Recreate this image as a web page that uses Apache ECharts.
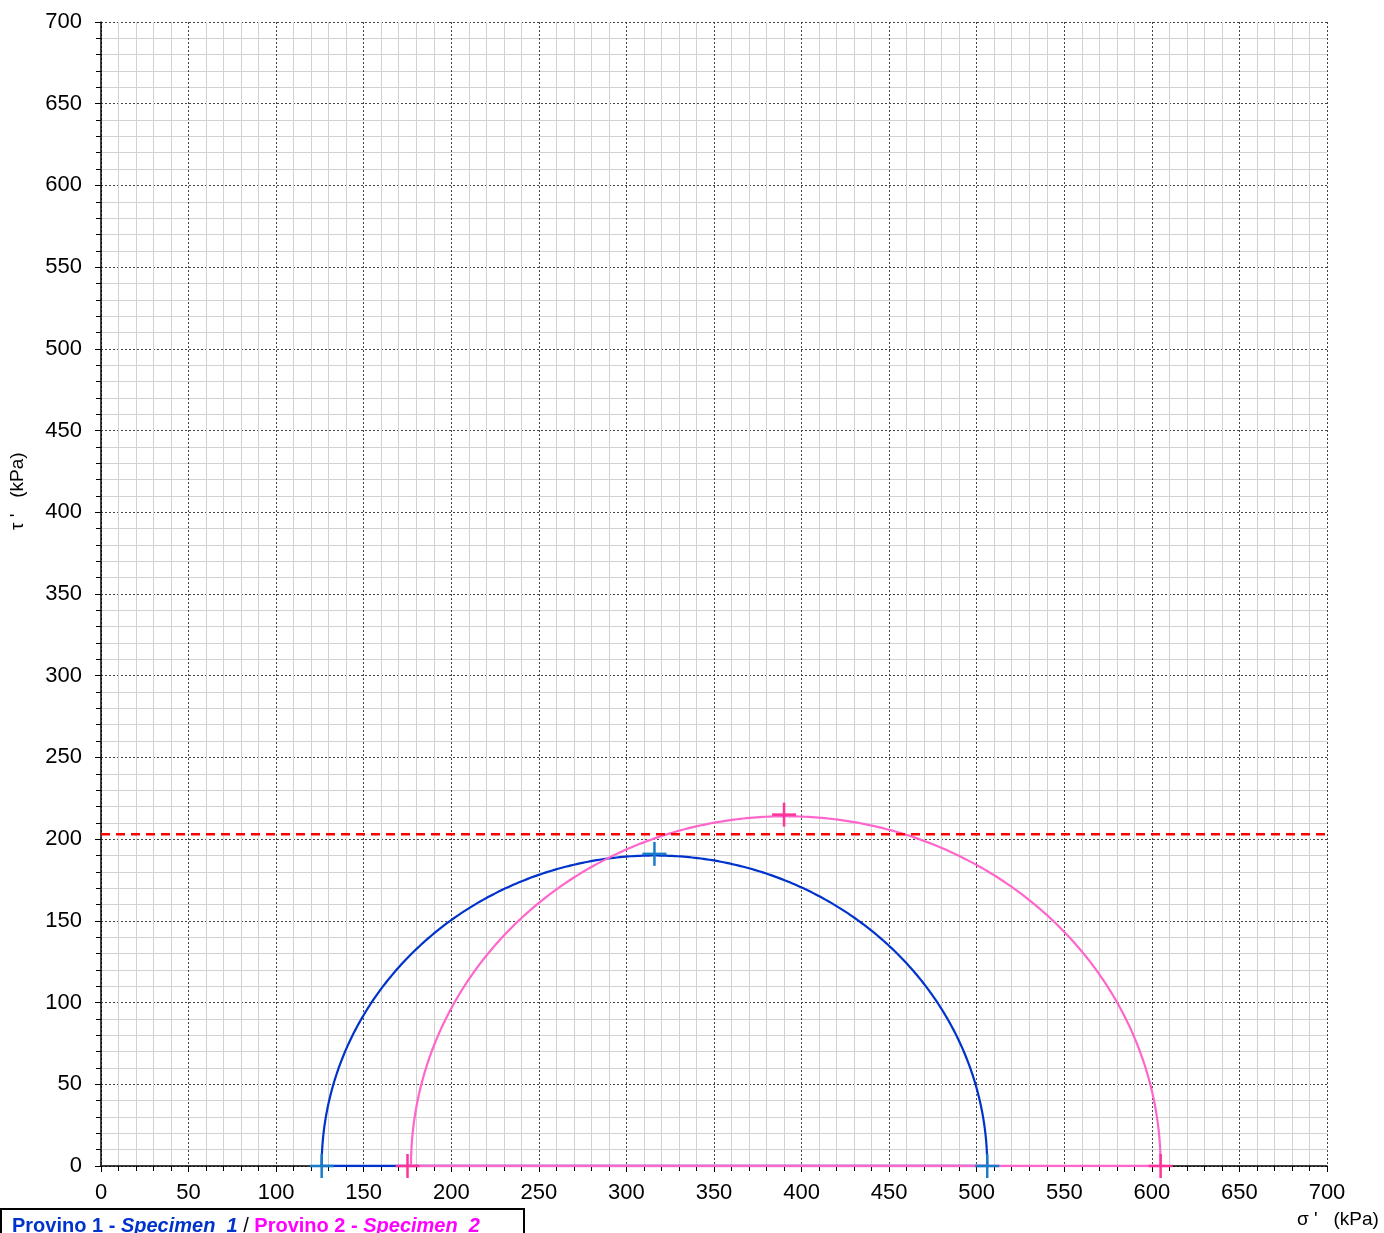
<!DOCTYPE html>
<html>
<head>
<meta charset="utf-8">
<script src="https://cdn.jsdelivr.net/npm/echarts@6/dist/echarts.min.js"></script>
<style>html,body{margin:0;padding:0;background:#fff}#c{width:1384px;height:1233px}</style>
</head>
<body>
<div id="c"></div>
<script>
// Mohr circles: [sigma3, sigma1] (kPa)
const circle1 = [126, 506];
const circle2 = [177, 605];
// centre markers [sigma, tau]
const centre1 = [316, 191];
const centre2 = [390, 215];
// end-point markers on tau = 0
const ends1 = [[126, 0], [506, 0]];
const ends2 = [[175, 0], [605, 0]];
// stress path along tau = 0
const path1 = [[125, 0], [506, 0]];
const path2 = [[175, 0], [608, 0]];
// failure envelope (horizontal)
const envelopeTau = 203;
const axisMin = 0, axisMax = 700, axisStep = 50;

const chart = echarts.init(document.getElementById('c'));
const font = 'Liberation Sans, Arial, sans-serif';

function circleSeries(name, c, color) {
  return {
    name, type: 'custom', data: [c], z: 5,
    renderItem: function (params, api) {
      const s3 = api.value(0), s1 = api.value(1);
      const ctr = (s1 + s3) / 2, r = (s1 - s3) / 2;
      const pts = [];
      for (let i = 0; i <= 360; i++) {
        const t = Math.PI * i / 360;
        pts.push(api.coord([ctr - r * Math.cos(t), r * Math.sin(t)]));
      }
      return { type: 'polyline', shape: { points: pts }, style: { stroke: color, lineWidth: 2.2, fill: null } };
    }
  };
}
function crossSeries(name, data, color, h, v) {
  return {
    name, type: 'custom', data: data, z: 6,
    renderItem: function (params, api) {
      const p = api.coord([api.value(0), api.value(1)]);
      return { type: 'group', children: [
        { type: 'line', shape: { x1: p[0] - h, y1: p[1], x2: p[0] + h, y2: p[1] }, style: { stroke: color, lineWidth: 2.5 } },
        { type: 'line', shape: { x1: p[0], y1: p[1] - v, x2: p[0], y2: p[1] + v }, style: { stroke: color, lineWidth: 2.5 } }
      ]};
    }
  };
}

chart.setOption({
  animation: false,
  backgroundColor: '#fff',
  grid: { left: 101, right: 57, top: 22, bottom: 67 },
  xAxis: {
    type: 'value', min: axisMin, max: axisMax, interval: axisStep,
    axisLine: { lineStyle: { color: '#000', width: 1.5 } },
    axisTick: { show: true, length: 6, lineStyle: { color: '#000' } },
    minorTick: { show: true, splitNumber: 5, length: 5, lineStyle: { color: '#000' } },
    axisLabel: { color: '#000', fontSize: 22, fontFamily: font, margin: 16 },
    splitLine: { show: true, lineStyle: { color: '#444', type: [2, 2], width: 1 } },
    minorSplitLine: { show: true, lineStyle: { color: '#d2d2d2', width: 1 } }
  },
  yAxis: {
    type: 'value', min: axisMin, max: axisMax, interval: axisStep,
    axisLine: { show: true, lineStyle: { color: '#000', width: 1.5 } },
    axisTick: { show: true, length: 6, lineStyle: { color: '#000' } },
    minorTick: { show: true, splitNumber: 5, length: 5, lineStyle: { color: '#000' } },
    axisLabel: { color: '#000', fontSize: 22, fontFamily: font, margin: 19 },
    splitLine: { show: true, lineStyle: { color: '#444', type: [2, 2], width: 1 } },
    minorSplitLine: { show: true, lineStyle: { color: '#d2d2d2', width: 1 } }
  },
  series: [
    { type: 'line', data: path1, symbol: 'none', lineStyle: { color: '#0033cc', width: 2.5 }, z: 4 },
    { type: 'line', data: path2, symbol: 'none', lineStyle: { color: '#ff66cc', width: 2.5 }, z: 4 },
    circleSeries('c1', circle1, '#0033cc'),
    circleSeries('c2', circle2, '#ff66cc'),
    crossSeries('e1', ends1, '#1a7bc8', 12, 12),
    crossSeries('e2', ends2, '#ff3399', 12, 12),
    crossSeries('m1', [centre1], '#1a7bc8', 12, 12),
    crossSeries('m2', [centre2], '#ff3399', 12, 12),
    { type: 'line', data: [[axisMin, envelopeTau], [axisMax, envelopeTau]], symbol: 'none', z: 7,
      lineStyle: { color: '#ff0000', width: 2.5, type: [9, 6] } }
  ],
  graphic: [
    { type: 'rect', left: 0, top: 1208, shape: { width: 523, height: 40 }, style: { fill: '#fff', stroke: '#000', lineWidth: 2 }, z: 10 },
    { type: 'text', left: 12, top: 1216, z: 11, style: {
        text: '{a|Provino 1 - }{b|Specimen  1}{c| / }{d|Provino 2 - }{e|Specimen  2}',
        rich: {
          a: { fill: '#0033cc', fontWeight: 'bold', fontSize: 20, fontFamily: font },
          b: { fill: '#0033cc', fontWeight: 'bold', fontStyle: 'italic', fontSize: 20, fontFamily: font },
          c: { fill: '#000', fontSize: 20, fontFamily: font },
          d: { fill: '#ff00ff', fontWeight: 'bold', fontSize: 20, fontFamily: font },
          e: { fill: '#ff00ff', fontWeight: 'bold', fontStyle: 'italic', fontSize: 20, fontFamily: font }
        }
      } },
    { type: 'text', left: 1297, top: 1210, z: 11, style: { text: "σ '   (kPa)", fill: '#000', fontSize: 19, fontFamily: font } },
    { type: 'text', x: 8, y: 530, rotation: Math.PI / 2, z: 11, style: { text: "τ '   (kPa)", fill: '#000', fontSize: 19, fontFamily: font } }
  ]
});
</script>
</body>
</html>
